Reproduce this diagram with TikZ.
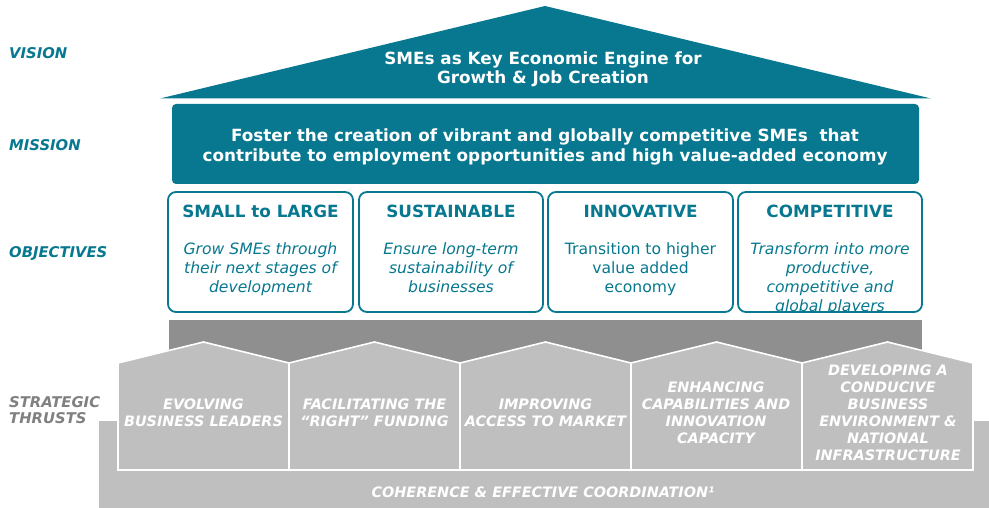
\documentclass[tikz,border=0pt]{standalone}
\usepackage{fontspec}
\setmainfont{DejaVu Sans}
\definecolor{teal1}{RGB}{7,120,143}
\definecolor{lgrey}{RGB}{191,191,191}
\definecolor{dgrey}{RGB}{143,143,143}
\definecolor{lblgrey}{RGB}{128,128,128}
\begin{document}
\begin{tikzpicture}[x=1pt,y=-1pt,
  lbl/.style={anchor=west,font=\fontsize{14.8}{16.5}\selectfont\bfseries\itshape,text=teal1,align=left,inner sep=0},
  whitehead/.style={font=\fontsize{16.8}{19.5}\selectfont\bfseries,text=white,align=center,inner sep=0},
  objbox/.style={draw=teal1,line width=1.8pt,rounded corners=8pt,fill=white},
  objhead/.style={font=\fontsize{16.8}{18}\selectfont\bfseries,text=teal1,inner sep=0},
  objtext/.style={font=\fontsize{15.6}{19}\selectfont,text=teal1,align=center,inner sep=0,anchor=north},
  house/.style={fill=lgrey,draw=white,line width=1.6pt,line join=miter},
  thrust/.style={font=\fontsize{14.4}{17}\selectfont\bfseries\itshape,text=white,align=center,inner sep=0}
]
\useasboundingbox (0,0) rectangle (989,508);
% labels
\node[lbl] (lvision) at (9,53) {VISION};
\node[lbl] (lmission) at (9,145) {MISSION};
\node[lbl] (lobj) at (9,253) {OBJECTIVES};
\node[lbl,text=lblgrey] (lthrust) at (9,410) {STRATEGIC\\THRUSTS};
% roof
\fill[teal1] (160,98.5) -- (545,6) -- (931,98.5) -- cycle;
\node[whitehead] (vision) at (543,69.5) {SMEs as Key Economic Engine for\\Growth \& Job Creation};
% mission
\fill[teal1,rounded corners=4pt] (172,104) rectangle (919,184);
\node[whitehead] (mission) at (545,147) {Foster the creation of vibrant and globally competitive SMEs\ \ that\\contribute to employment opportunities and high value-added economy};
% grey base and bar
\fill[lgrey] (99,421) rectangle (989,508);
\fill[dgrey] (169,320) rectangle (922,365);
% objectives
\draw[objbox] (168,192) rectangle (353,312);
\draw[objbox] (359,192) rectangle (543,312);
\draw[objbox] (548,192) rectangle (733,312);
\draw[objbox] (738,192) rectangle (922,312);
\node[objhead] (h1) at (260.5,211) {SMALL to LARGE};
\node[objhead] (h2) at (451,211) {SUSTAINABLE};
\node[objhead] (h3) at (640.5,211) {INNOVATIVE};
\node[objhead] (h4) at (830,211) {COMPETITIVE};
\node[objtext,font=\fontsize{15.6}{19}\selectfont\itshape] (t1) at (260.5,242.5) {Grow SMEs through\\their next stages of\\development};
\node[objtext,font=\fontsize{15.6}{19}\selectfont\itshape] (t2) at (451,242.5) {Ensure long-term\\sustainability of\\businesses};
\node[objtext] (t3) at (640.5,242.5) {Transition to higher\\value added\\economy};
\begin{scope}
\clip (738,192) rectangle (922,311);
\node[objtext,font=\fontsize{15.6}{19}\selectfont\itshape] (t4) at (830,242.5) {Transform into more\\productive,\\competitive and\\global players};
\end{scope}
\draw[teal1,line width=1.8pt] (746,312) -- (914,312);
% houses
\draw[house] (118,470) -- (118,363) -- (203.5,342) -- (289,363) -- (289,470) -- cycle;
\draw[house] (289,470) -- (289,363) -- (374.5,342) -- (460,363) -- (460,470) -- cycle;
\draw[house] (460,470) -- (460,363) -- (545.5,342) -- (631,363) -- (631,470) -- cycle;
\draw[house] (631,470) -- (631,363) -- (716.5,342) -- (802,363) -- (802,470) -- cycle;
\draw[house] (802,470) -- (802,363) -- (887.5,342) -- (973,363) -- (973,470) -- cycle;
\node[thrust] (s1) at (203.5,413) {EVOLVING\\BUSINESS LEADERS};
\node[thrust] (s2) at (374.5,413) {FACILITATING THE\\“RIGHT” FUNDING};
\node[thrust] (s3) at (545.5,413) {IMPROVING\\ACCESS TO MARKET};
\node[thrust] (s4) at (716,413) {ENHANCING\\CAPABILITIES AND\\INNOVATION\\CAPACITY};
\node[thrust] (s5) at (888,413) {DEVELOPING A\\CONDUCIVE\\BUSINESS\\ENVIRONMENT \&\\NATIONAL\\INFRASTRUCTURE};
\node[thrust] (base) at (543,492) {COHERENCE \& EFFECTIVE COORDINATION¹};
\end{tikzpicture}
\end{document}
